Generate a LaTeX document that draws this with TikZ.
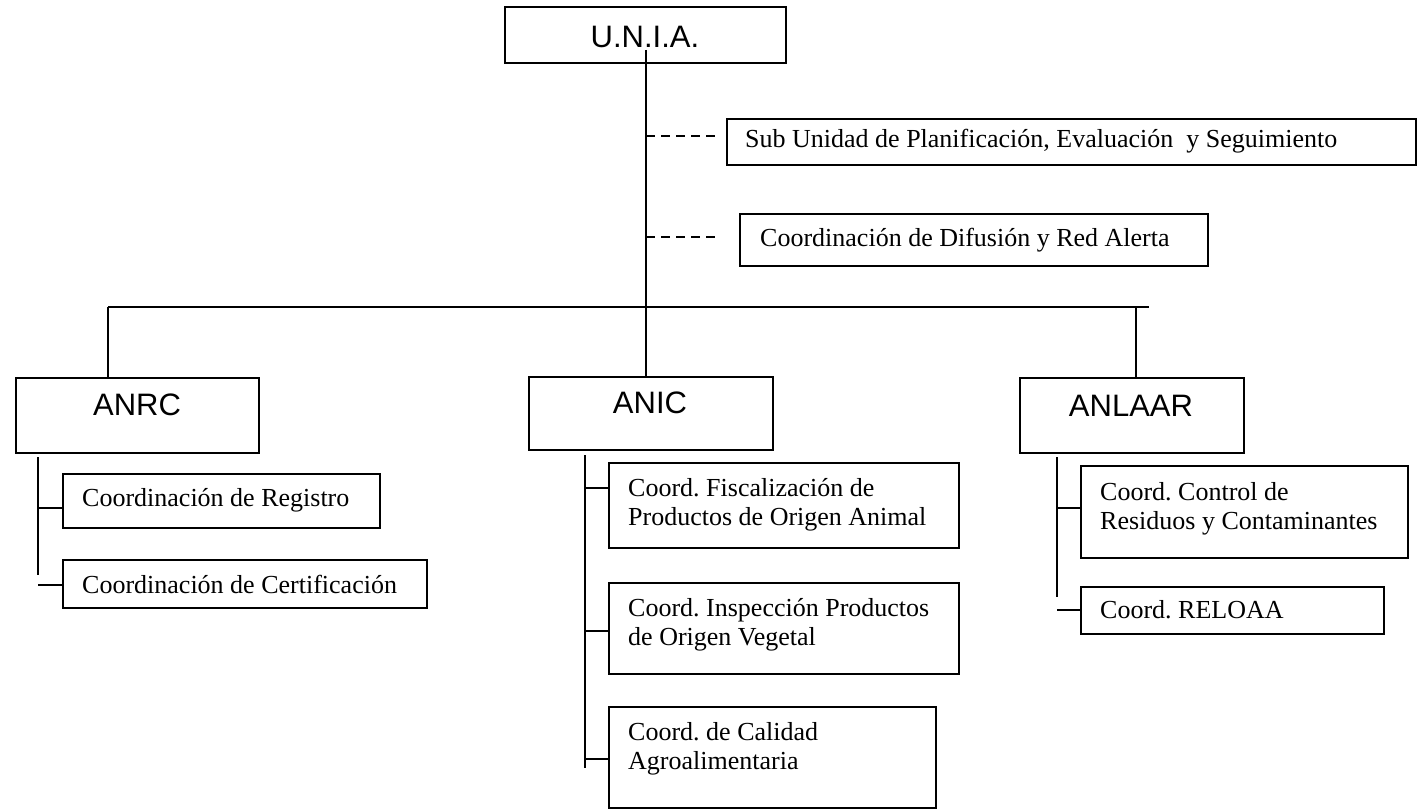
\documentclass[tikz,border=0pt]{standalone}
\usepackage{fontspec}
\setmainfont{Liberation Serif}
\newfontfamily\arialf{Liberation Sans}
\frenchspacing
\begin{document}
\begin{tikzpicture}[x=1pt,y=-1pt,
  box/.style={draw,line width=1.9pt,rectangle,inner sep=0pt},
  lbl/.style={inner sep=0pt,anchor=west,align=left,font=\frenchspacing\fontsize{26}{29}\selectfont},
  big/.style={inner sep=0pt,font=\arialf\fontsize{31}{35}\selectfont},
  conn/.style={line width=1.9pt},
  dconn/.style={line width=1.9pt,dash pattern=on 9pt off 6pt}]
\useasboundingbox (0,0) rectangle (1417,810);

% top box
\draw[box] (505,7) rectangle (786,63);
\node[big] (unia) at (645,37) {U.N.I.A.};

% staff boxes
\node[box,minimum width=689pt,minimum height=46pt,anchor=north west] (sub) at (726,118) {};
\node[lbl] (subt) at (745,141) {Sub Unidad de Planificación, Evaluación\ \ y Seguimiento};
\node[box,minimum width=468pt,minimum height=52pt,anchor=north west] (dif) at (739,213) {};
\node[lbl] (dift) at (760,240) {Coordinación de Difusión y Red Alerta};

% trunk
\coordinate (top) at (646,50);
\coordinate (d1) at (717,136);
\coordinate (d2) at (717,237);
\coordinate (barL) at (108,307);
\coordinate (barR) at (1149,307);

% level 2 boxes
\node[box,minimum width=243pt,minimum height=75pt,anchor=north west] (anrc) at (15,377) {};
\node[big] (anrct) at (137,405) {ANRC};
\node[box,minimum width=244pt,minimum height=73pt,anchor=north west] (anic) at (528,376) {};
\node[big] (anict) at (650,403) {ANIC};
\node[box,minimum width=224pt,minimum height=75pt,anchor=north west] (anlaar) at (1019,377) {};
\node[big] (anlaart) at (1131,406) {ANLAAR};

\draw[conn] (top) -- (top |- anic.north);
\draw[dconn] (top |- d1) -- (d1);
\draw[dconn] (top |- d2) -- (d2);
\draw[conn] (barL) -- (barR);
\draw[conn] (barL) -- (barL |- anrc.north);
\draw[conn] (1136,307) coordinate (barA) -- (barA |- anlaar.north);

% ANRC children
\node[box,minimum width=317pt,minimum height=54pt,anchor=north west] (reg) at (62,473) {};
\node[lbl] (regt) at (82,500) {Coordinación de Registro};
\node[box,minimum width=364pt,minimum height=48pt,anchor=north west] (cert) at (62,559) {};
\node[lbl] (certt) at (82,584) {Coordinación de Certificación};
\coordinate (v1a) at (38,457);
\coordinate (v1b) at (38,575);
\draw[conn] (v1a) -- (v1b);
\draw[conn] (38,508) coordinate (t1) -- (t1 -| reg.west);
\draw[conn] (38,585) coordinate (t2) -- (t2 -| cert.west);

% ANIC children
\node[box,minimum width=350pt,minimum height=85pt,anchor=north west] (fis) at (608,462) {};
\node[lbl] (fist) at (628,505) {Coord. Fiscalización de\\Productos de Origen Animal};
\node[box,minimum width=350pt,minimum height=91pt,anchor=north west] (ins) at (608,582) {};
\node[lbl] (inst) at (628,625) {Coord. Inspección Productos\\de Origen Vegetal};
\node[box,minimum width=327pt,minimum height=101pt,anchor=north west] (cal) at (608,706) {};
\node[lbl] (calt) at (628,749) {Coord. de Calidad\\Agroalimentaria};
\coordinate (v2a) at (585,455);
\coordinate (v2b) at (585,768);
\draw[conn] (v2a) -- (v2b);
\draw[conn] (585,488) coordinate (t3) -- (t3 -| fis.west);
\draw[conn] (585,631) coordinate (t4) -- (t4 -| ins.west);
\draw[conn] (585,759) coordinate (t5) -- (t5 -| cal.west);

% ANLAAR children
\node[box,minimum width=327pt,minimum height=92pt,anchor=north west] (ctl) at (1080,465) {};
\node[lbl] (ctlt) at (1100,509) {Coord. Control de\\Residuos y Contaminantes};
\node[box,minimum width=303pt,minimum height=47pt,anchor=north west] (rel) at (1080,586) {};
\node[lbl] (relt) at (1100,610) {Coord. RELOAA};
\coordinate (v3a) at (1057,457);
\coordinate (v3b) at (1057,597);
\draw[conn] (v3a) -- (v3b);
\draw[conn] (1057,508) coordinate (t6) -- (t6 -| ctl.west);
\draw[conn] (1057,610) coordinate (t7) -- (t7 -| rel.west);
\end{tikzpicture}
\end{document}
